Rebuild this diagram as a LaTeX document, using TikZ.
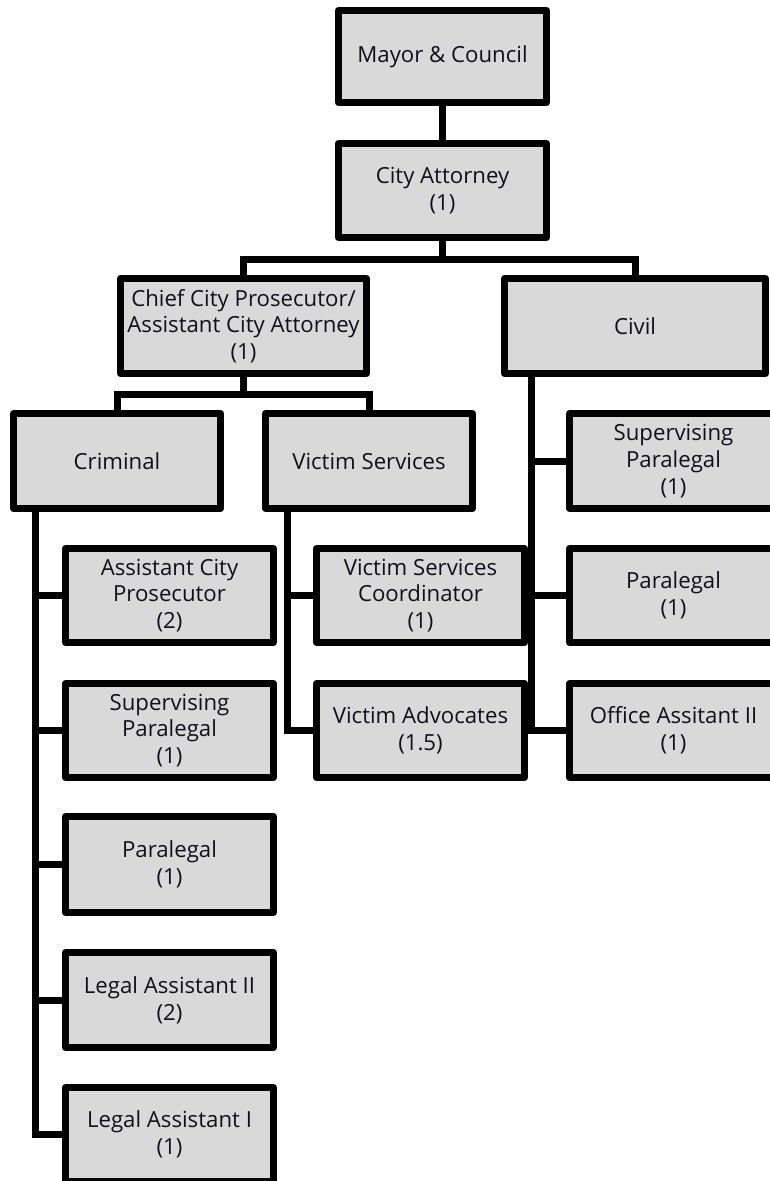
\documentclass[tikz,border=0pt]{standalone}
\usepackage{fontspec}
\setmainfont{Open Sans}
\definecolor{boxgray}{HTML}{D9D9D9}
\definecolor{txt}{HTML}{10101C}
\begin{document}
\begin{tikzpicture}[x=1pt,y=-1pt,
  box/.style={draw=black, fill=boxgray, line width=7pt, line join=round, inner sep=0pt,
    align=center, text=txt, font=\fontsize{22.2}{26.7}\selectfont,
    minimum width=208pt, minimum height=94pt},
  link/.style={line width=7pt, draw=black, line join=miter}]
\path[use as bounding box] (0,0) rectangle (770,1181);
\clip (0,0) rectangle (770,1181);

\node[box, minimum height=92pt] (mayor) at (442.5,56.5) {Mayor \& Council};
\node[box] (ca) at (442.5,190.5) {City Attorney\\(1)};
\node[box, minimum width=246pt, minimum height=95pt] (chief) at (243.5,326) {Chief City Prosecutor/\\Assistant City Attorney\\(1)};
\node[box, minimum width=261pt, minimum height=95pt] (civil) at (635,326) {Civil};
\node[box, minimum width=207pt, minimum height=95pt] (crim) at (117,461) {Criminal};
\node[box, minimum width=207pt, minimum height=95pt] (vs) at (369,461) {Victim Services};
\node[box, minimum height=95pt] (csp) at (673.5,461) {Supervising\\Paralegal\\(1)};
\node[box] (acp) at (169.5,595.5) {Assistant City\\Prosecutor\\(2)};
\node[box] (vsc) at (420.5,595.5) {Victim Services\\Coordinator\\(1)};
\node[box] (cpar) at (673.5,595.5) {Paralegal\\(1)};
\node[box] (sp) at (169.5,730.5) {Supervising\\Paralegal\\(1)};
\node[box] (va) at (420.5,730.5) {Victim Advocates\\(1.5)};
\node[box] (oa2) at (673.5,730.5) {Office Assitant II\\(1)};
\node[box, minimum height=96pt] (par) at (169.5,864.5) {Paralegal\\(1)};
\node[box, minimum height=95pt] (la2) at (169.5,1000) {Legal Assistant II\\(2)};
\node[box] (la1) at (169.5,1134.5) {Legal Assistant I\\(1)};

\coordinate (bar1) at (442.5,259);
\coordinate (bar2) at (243.5,394);
\coordinate (crimtrunk) at (35,510);
\coordinate (vstrunk) at (287,510);
\coordinate (civtrunk) at (531,375);

\draw[link] (mayor.south) -- (ca.north);
\draw[link] (ca.south) -- (bar1);
\draw[link] (chief.north) |- (bar1) -| (civil.north);
\draw[link] (chief.south) -- (bar2);
\draw[link] (crim.north) |- (bar2) -| (vs.north);

\draw[link] (crimtrunk) |- (la1.west);
\foreach \n in {acp,sp,par,la2} \draw[link] (crimtrunk |- \n.west) -- (\n.west);
\draw[link] (vstrunk) |- (va.west);
\draw[link] (vstrunk |- vsc.west) -- (vsc.west);
\draw[link] (civtrunk) |- (oa2.west);
\foreach \n in {csp,cpar} \draw[link] (civtrunk |- \n.west) -- (\n.west);
\end{tikzpicture}
\end{document}
